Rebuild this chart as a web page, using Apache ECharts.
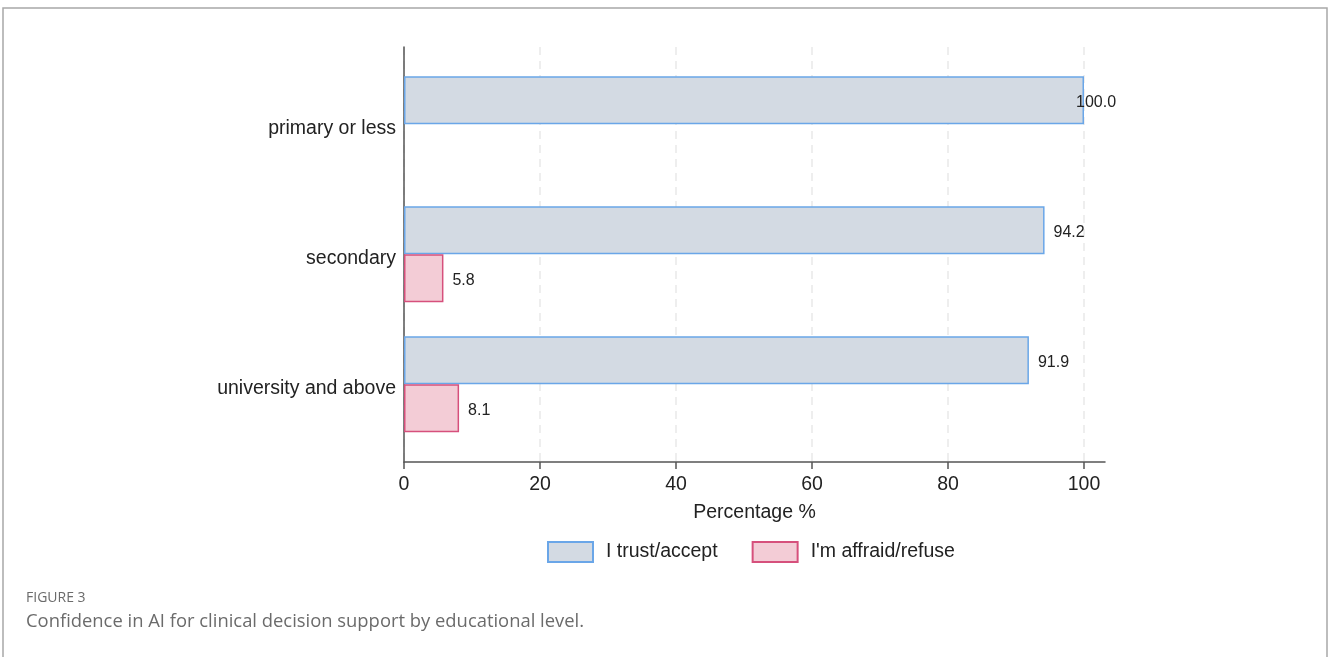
<!DOCTYPE html>
<html>
<head>
<meta charset="utf-8">
<script src="https://cdn.jsdelivr.net/npm/echarts@6/dist/echarts.min.js"></script>
<style>
html,body{margin:0;padding:0;background:#fff;}
#chart{width:1332px;height:657px;}
</style>
</head>
<body>
<div id="chart"></div>
<script>
// ---- data ----
const categories = ['primary or less', 'secondary', 'university and above'];
const trustValues = [100.0, 94.2, 91.9];
const afraidValues = [null, 5.8, 8.1];
const seriesNames = ['I trust/accept', "I'm affraid/refuse"];
const xTickValues = [0, 20, 40, 60, 80, 100];
const xAxisTitle = 'Percentage %';
const figureLabel = 'FIGURE 3';
const captionText = 'Confidence in AI for clinical decision support by educational level.';

// ---- layout ----
const FONT = '"Liberation Sans", Arial, Helvetica, sans-serif';
const plotLeft = 404;
const pxPerUnit = 6.8;
const axisWidth = 701;
const axisMax = axisWidth / pxPerUnit;

const labelStyle = {
  show: true, position: 'right', distance: 9, fontSize: 16,
  color: '#222', fontFamily: FONT, offset: [0, 2],
  formatter: p => p.value == null ? '' : Number(p.value).toFixed(1)
};

const trustData = trustValues.map((v, i) => {
  if (v >= 100) return { value: v, label: { offset: [-17, 2] } };
  return v;
});

const chart = echarts.init(document.getElementById('chart'), null, { renderer: 'canvas' });
chart.setOption({
  animation: false,
  backgroundColor: '#ffffff',
  textStyle: { fontFamily: FONT },
  title: [
    { text: figureLabel, left: 21, top: 586,
      textStyle: { fontSize: 14, color: '#6b6b6b', fontWeight: 'normal', fontFamily: '"Open Sans", sans-serif' } },
    { text: captionText, left: 21, top: 608,
      textStyle: { fontSize: 18.4, color: '#6b6b6b', fontWeight: 'normal', fontFamily: '"Open Sans", sans-serif' } }
  ],
  graphic: [
    { type: 'rect', shape: { x: 3, y: 8, width: 1324, height: 700 }, silent: true, z: -10,
      style: { fill: 'none', stroke: '#a8a8a8', lineWidth: 1.5 } }
  ],
  legend: {
    data: seriesNames, left: 542, top: 536, itemWidth: 45, itemHeight: 20, itemGap: 34,
    icon: 'rect',
    textStyle: { fontSize: 19.5, color: '#222', fontFamily: FONT, padding: [0, 0, 0, 8] }
  },
  grid: [
    { left: plotLeft, width: axisWidth, top: 59.3, height: 390 },
    { left: plotLeft, width: axisWidth, top: 47, height: 415 },
    { left: plotLeft, width: 100 * pxPerUnit, top: 47, height: 415 }
  ],
  xAxis: [
    { gridIndex: 0, type: 'value', min: 0, max: axisMax, show: false },
    { gridIndex: 1, type: 'value', min: 0, max: axisMax,
      axisLine: { show: true, lineStyle: { color: '#555', width: 1.5 } },
      axisTick: { show: true, length: 7, customValues: xTickValues, lineStyle: { color: '#555', width: 1.5 } },
      axisLabel: { show: true, customValues: xTickValues, fontSize: 19.5, color: '#222', margin: 13, fontFamily: FONT },
      splitLine: { show: false },
      name: xAxisTitle, nameLocation: 'middle', nameGap: 41,
      nameTextStyle: { fontSize: 19.5, color: '#222', fontFamily: FONT } },
    { gridIndex: 2, type: 'value', min: 0, max: 100, interval: 20,
      axisLine: { show: false }, axisTick: { show: false }, axisLabel: { show: false },
      splitLine: { show: true, lineStyle: { color: '#e9e9e9', width: 1.5, type: [8, 6] } } }
  ],
  yAxis: [
    { gridIndex: 0, type: 'category', data: categories, inverse: true,
      axisLine: { show: false }, axisTick: { show: false }, splitLine: { show: false },
      axisLabel: { fontSize: 19.5, color: '#222', margin: 8, fontFamily: FONT,
        verticalAlign: 'top', lineHeight: 8 } },
    { gridIndex: 1, type: 'value', min: 0, max: 1,
      axisLine: { show: true, lineStyle: { color: '#555', width: 1.5 } },
      axisTick: { show: false }, axisLabel: { show: false }, splitLine: { show: false } },
    { gridIndex: 2, type: 'value', show: false, min: 0, max: 1, splitLine: { show: false } }
  ],
  series: [
    { name: seriesNames[0], type: 'bar', xAxisIndex: 0, yAxisIndex: 0,
      data: trustData, barWidth: 48, barGap: '0%', z: 3,
      itemStyle: { color: '#d3dae3', borderColor: '#6aa6e8', borderWidth: 1.5 },
      label: labelStyle },
    { name: seriesNames[1], type: 'bar', xAxisIndex: 0, yAxisIndex: 0,
      data: afraidValues, barWidth: 48, barGap: '0%', z: 3,
      itemStyle: { color: '#f3ccd6', borderColor: '#d6507c', borderWidth: 1.5 },
      label: labelStyle }
  ]
});
</script>
</body>
</html>
